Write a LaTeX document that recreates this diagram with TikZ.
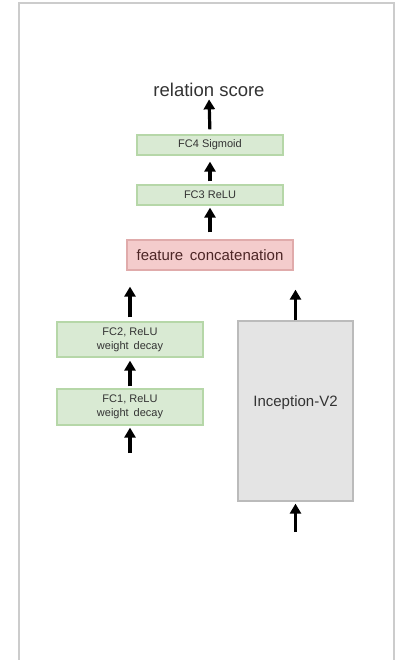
\documentclass[tikz,border=0pt]{standalone}
\usepackage{fontspec}
\setmainfont{Liberation Sans}
\usetikzlibrary{arrows.meta}

\definecolor{fcfill}{HTML}{D9EAD3}
\definecolor{fcline}{HTML}{B6D7A8}
\definecolor{catfill}{HTML}{F4CCCC}
\definecolor{catline}{HTML}{E0ABAB}
\definecolor{cattext}{HTML}{4D2626}
\definecolor{incfill}{HTML}{E4E4E4}
\definecolor{incline}{HTML}{BBBBBB}
\definecolor{frameline}{HTML}{CCCCCC}
\definecolor{txt}{HTML}{333333}

\tikzset{
  fcbox/.style={draw=fcline, fill=fcfill, line width=1.2pt, inner sep=0pt,
    minimum width=146pt, text=txt, align=center,
    font=\fontsize{11}{14}\selectfont},
  catbox/.style={draw=catline, fill=catfill, line width=1.2pt, inner sep=0pt,
    minimum width=166pt, minimum height=30pt, text=cattext,
    font=\fontsize{15}{18}\selectfont},
  incbox/.style={draw=incline, fill=incfill, line width=1.2pt, inner sep=0pt,
    minimum width=115pt, minimum height=180pt, text=txt,
    font=\fontsize{15}{18}\selectfont},
  flow/.style={line width=3.2pt, -{Triangle[width=11pt,length=10pt]}}
}

\begin{document}
\begin{tikzpicture}[x=1pt, y=-1pt]
  \useasboundingbox (0,0) rectangle (398,660);
  % outer frame (open at the bottom)
  \draw[frameline, line width=2pt] (19,665) -- (19,3) -- (394,3) -- (394,665);

  % title
  \node[anchor=base, inner sep=0pt, text=txt, font=\fontsize{18.5}{22}\selectfont]
    (rs) at (209,97) {relation score};

  % head of the relation module
  \node[fcbox, minimum height=20pt] (fc4) at (210,145) {FC4 Sigmoid};
  \node[fcbox, minimum height=20pt] (fc3) at (210,195) {FC3 ReLU};
  \node[catbox] (cat) at (210,255) {feature\, concatenation};

  % left branch
  \node[fcbox, minimum height=35pt] (fc2) at (130,339.5) {FC2, ReLU\\weight\, decay};
  \node[fcbox, minimum height=36pt] (fc1) at (130,407) {FC1, ReLU\\weight\, decay};

  % right branch
  \node[incbox] (inc) at (295.5,411) {};
  \node[text=txt, font=\fontsize{15}{18}\selectfont, inner sep=0pt] (inclabel) at (295.5,403) {Inception-V2};

  \coordinate (inL) at (130,453);
  \coordinate (inR) at (295.5,532);

  % connectors
  \draw[flow, shorten <=5pt, shorten >=2pt] (fc4.north) -- (rs.south);
  \draw[flow, shorten <=3pt, shorten >=6pt] (fc3.north) -- (fc4.south);
  \draw[flow, shorten <=7pt, shorten >=2pt] (cat.north) -- (fc3.south);
  \draw[flow, shorten <=4pt, shorten >=16pt] (fc2.north) -- (fc2.north |- cat.south);
  \draw[flow, shorten <=2pt, shorten >=3pt] (fc1.north) -- (fc2.south);
  \draw[flow, shorten >=2pt] (inL) -- (fc1.south);
  \draw[flow, shorten >=19pt] (inc.north) -- (inc.north |- cat.south);
  \draw[flow, shorten >=2pt] (inR) -- (inc.south);
\end{tikzpicture}
\end{document}
